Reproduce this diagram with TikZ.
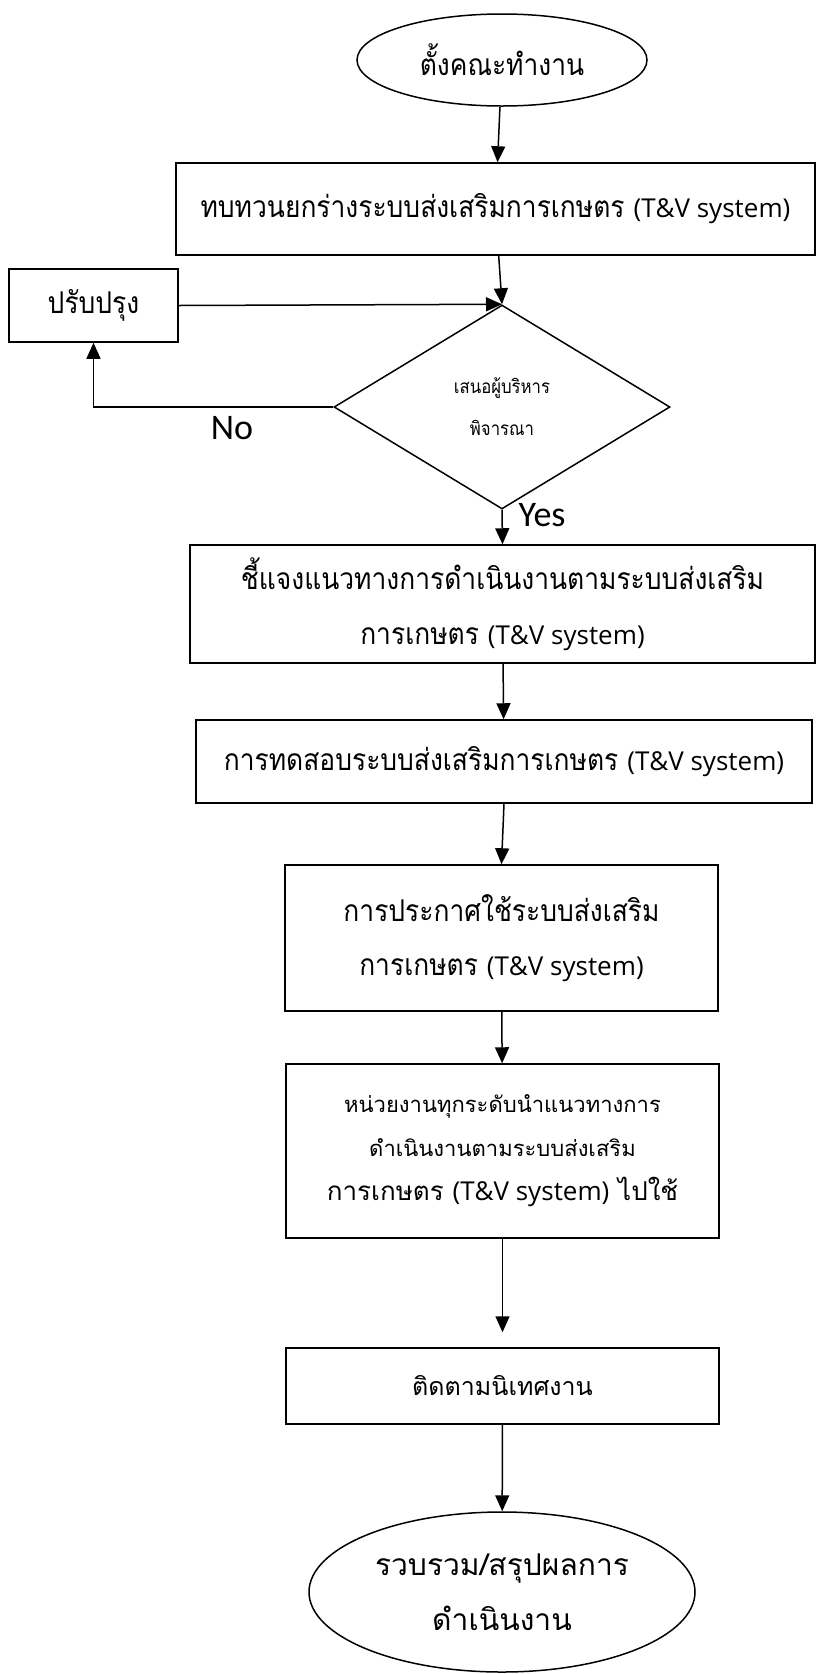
\documentclass[tikz,border=0pt]{standalone}
\usepackage{fontspec}
\usetikzlibrary{shapes.geometric,arrows.meta}
\newfontfamily\thc[Script=Thai,FakeStretch=0.88]{Loma}
\newfontfamily\thw[Script=Thai]{Loma}
\newfontfamily\lat{Carlito}
\newfontfamily\seg{Open Sans}
\newcommand\tvsys[1]{{\seg\fontsize{#1}{#1}\selectfont(T\&V system)}}
\tikzset{
  box/.style={draw,line width=1.5pt,rectangle,inner sep=0pt,align=center},
  oval/.style={draw,line width=1.5pt,ellipse,inner sep=0pt,align=center},
  arr/.style={line width=1.5pt,-{Triangle[width=14pt,length=16pt]}},
}
\begin{document}
\begin{tikzpicture}[x=1pt,y=-1pt]
\useasboundingbox (0,0) rectangle (817,1674);
\node[oval,minimum width=290pt,minimum height=92pt,font={\thc\fontsize{30}{36}\selectfont}] (start) at (502,60) {ตั้งคณะทำงาน};
\node[box,minimum width=639pt,minimum height=92pt,font={\thc\fontsize{30}{36}\selectfont}] (review) at (495.5,209) {ทบทวนยกร่างระบบส่งเสริมการเกษตร \tvsys{26}};
\node[box,minimum width=169pt,minimum height=73pt,font={\thc\fontsize{30}{36}\selectfont}] (fix) at (93.5,305.5) {ปรับปรุง};
\node[draw,line width=1.5pt,diamond,aspect=1.647,minimum width=336pt,minimum height=204pt,inner sep=0pt,align=center,font={\thc\fontsize{19}{42}\selectfont}] (dec) at (502,407) {เสนอผู้บริหาร\\พิจารณา};
\node[box,minimum width=625pt,minimum height=118pt,font={\thc\fontsize{30}{55}\selectfont}] (explain) at (502.5,604) {ชี้แจงแนวทางการดำเนินงานตามระบบส่งเสริม\\การเกษตร \tvsys{26}};
\node[box,minimum width=616pt,minimum height=83pt,font={\thc\fontsize{30}{36}\selectfont}] (test) at (504,761.5) {การทดสอบระบบส่งเสริมการเกษตร \tvsys{26}};
\node[box,minimum width=433pt,minimum height=146pt,font={\thc\fontsize{30}{54}\selectfont}] (announce) at (501.5,938) {การประกาศใช้ระบบส่งเสริม\\การเกษตร \tvsys{26}};
\node[box,minimum width=433pt,minimum height=174pt,font={\thw\fontsize{22}{44}\selectfont}] (apply) at (502.5,1151) {หน่วยงานทุกระดับนำแนวทางการ\\ดำเนินงานตามระบบส่งเสริม\\{\fontsize{26}{30}\selectfont การเกษตร \tvsys{26} ไปใช้}};
\node[box,minimum width=433pt,minimum height=76pt,font={\thw\fontsize{25}{30}\selectfont}] (monitor) at (502.5,1386) {ติดตามนิเทศงาน};
\node[oval,minimum width=386pt,minimum height=160pt,font={\thw\fontsize{30}{55}\selectfont}] (sum) at (502,1592) {รวบรวม/สรุปผลการ\\ดำเนินงาน};
\node[font={\lat\fontsize{36}{40}\selectfont}] (no) at (232,428) {No};
\node[font={\lat\fontsize{36}{40}\selectfont}] (yes) at (542,515) {Yes};
\draw[arr] (start) -- (review);
\draw[arr] (review) -- (dec.north);
\draw[arr] (fix.east) -- (dec.north);
\draw[arr] (dec.west) -| (fix.south);
\draw[arr] (dec.south) -- (explain.north);
\draw[arr] (explain) -- (test);
\draw[arr] (test.south) -- (announce.north);
\draw[arr] (announce) -- (apply);
\draw[arr,shorten >=15pt] (apply) -- (monitor);
\draw[arr] (monitor) -- (sum);
\end{tikzpicture}
\end{document}
